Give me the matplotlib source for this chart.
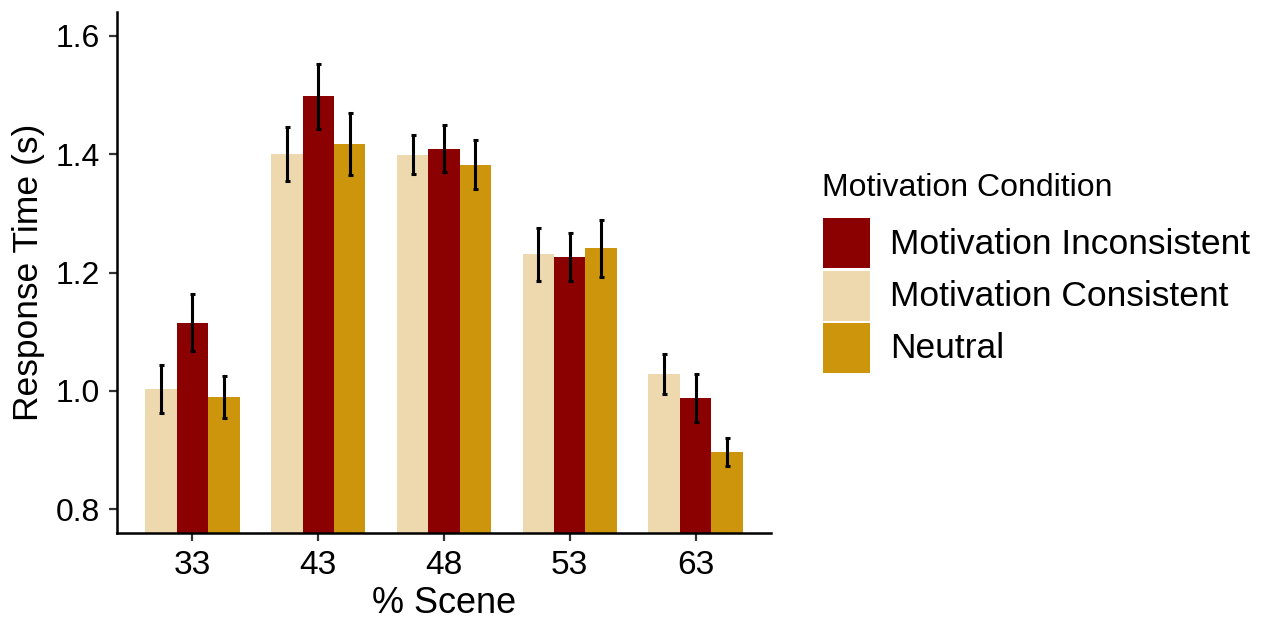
import numpy as np
import matplotlib.pyplot as plt
from matplotlib.patches import Rectangle

plt.rcParams['font.family'] = ['Liberation Sans', 'DejaVu Sans']

scenes = ['33', '43', '48', '53', '63']

# mean response time and standard error per condition
consistent_mean = [1.003, 1.400, 1.399, 1.231, 1.028]
consistent_se = [0.040, 0.045, 0.033, 0.045, 0.034]
inconsistent_mean = [1.115, 1.498, 1.409, 1.226, 0.988]
inconsistent_se = [0.048, 0.055, 0.040, 0.040, 0.041]
neutral_mean = [0.990, 1.417, 1.382, 1.241, 0.897]
neutral_se = [0.035, 0.053, 0.041, 0.048, 0.024]

c_incon = '#8B0000'
c_con = '#EED8AE'
c_neu = '#CD950C'

W, H = 1270, 619
fig = plt.figure(figsize=(W / 100, H / 100), dpi=100)
ax = fig.add_axes([117/W, 1 - 533/H, (771-117)/W, (533-12)/H])

x = np.arange(1, len(scenes) + 1)
w = 0.25
groups = [
    (consistent_mean, consistent_se, c_con, -w),
    (inconsistent_mean, inconsistent_se, c_incon, 0),
    (neutral_mean, neutral_se, c_neu, w),
]
for mean, se, col, off in groups:
    ax.bar(x + off, mean, width=w, color=col, linewidth=0, zorder=1)
    ax.errorbar(x + off, mean, yerr=se, fmt='none', ecolor='black',
                elinewidth=2.2, capsize=1.8, capthick=2.2, zorder=2)

ax.set_xlim(0.4, 5.6)
ax.set_ylim(0.76, 1.64)
ax.set_xticks(x)
ax.set_xticklabels(scenes)
ax.set_yticks([0.8, 1.0, 1.2, 1.4, 1.6])
ax.set_yticklabels(['0.8', '1.0', '1.2', '1.4', '1.6'])
ax.tick_params(axis='both', labelsize=23, length=6, width=1.6, color='#333333', pad=6)
ax.tick_params(axis='x', labelsize=24)
for s in ['top', 'right']:
    ax.spines[s].set_visible(False)
for s in ['left', 'bottom']:
    ax.spines[s].set_linewidth(1.8)

ax.set_xlabel('% Scene', fontsize=26, labelpad=4)
ax.set_ylabel('Response Time (s)', fontsize=25.5, labelpad=8)

# legend built by hand: big square keys stacked with a thin gap
legend_labels = ['Motivation Inconsistent', 'Motivation Consistent', 'Neutral']
legend_colors = [c_incon, c_con, c_neu]
fig.text(822/W, 1 - 188/H, 'Motivation Condition', fontsize=23,
         ha='left', va='center')
key_top, key_w, key_h, step = 218, 47, 50, 52.5
for i, (lab, col) in enumerate(zip(legend_labels, legend_colors)):
    top = key_top + i * step
    fig.patches.append(Rectangle((823/W, 1 - (top + key_h)/H), key_w/W, key_h/H,
                                 transform=fig.transFigure, facecolor=col,
                                 edgecolor='none'))
    fig.text(890/W, 1 - (top + key_h/2 + 1)/H, lab, fontsize=25.5,
             ha='left', va='center')

fig.savefig('out.png', dpi=100)
